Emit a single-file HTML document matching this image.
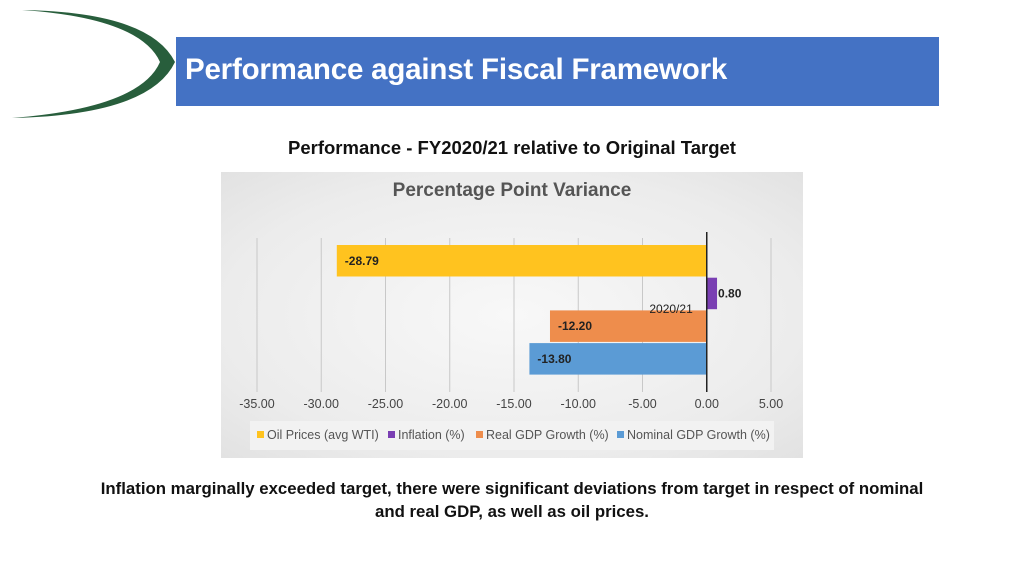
<!DOCTYPE html>
<html><head><meta charset="utf-8"><style>
body{margin:0;width:1024px;height:576px;background:#fff;position:relative;overflow:hidden;font-family:"Liberation Sans",sans-serif}
#title-bar{position:absolute;left:176px;top:37px;width:763px;height:69px;background:#4472c4}
#title-bar span{position:absolute;left:9px;top:16px;color:#fff;font-weight:bold;font-size:29.5px;letter-spacing:-0.2px;white-space:nowrap}
#subtitle{position:absolute;left:0;width:1024px;top:137px;text-align:center;font-weight:bold;font-size:18.5px;color:#111}
#panel{position:absolute;left:221px;top:172px;width:582px;height:286px;background:radial-gradient(ellipse at center,#f8f8f8 0%,#ececec 70%,#e2e2e2 100%)}
#caption{position:absolute;left:40px;width:944px;top:477px;text-align:center;font-weight:bold;font-size:16.8px;line-height:23px;color:#111}
</style></head><body>
<svg style="position:absolute;left:0;top:0" width="180" height="125">
<path d="M22 10 Q150 12 175 62 Q150 115 12 118 Q140 108 160 62 Q140 18 22 10Z" fill="#285e3c"/>
</svg>
<div id="title-bar"><span>Performance against Fiscal Framework</span></div>
<div id="subtitle">Performance - FY2020/21 relative to Original Target</div>
<div id="panel">
<svg id="chart" width="582" height="286" style="font-family:'Liberation Sans',sans-serif"></svg>
</div>
<div id="caption">Inflation marginally exceeded target, there were significant deviations from target in respect of nominal<br>and real GDP, as well as oil prices.</div>
<script>
const categories=["Oil Prices (avg WTI)","Inflation (%)","Real GDP Growth (%)","Nominal GDP Growth (%)"];
const values=[-28.79,0.80,-12.20,-13.80];
const labels=["-28.79","0.80","-12.20","-13.80"];
const colors=["#ffc31f","#7a3fb3","#ee8d4c","#5b9bd5"];
const ticks=[-35,-30,-25,-20,-15,-10,-5,0,5];
const tickLabels=["-35.00","-30.00","-25.00","-20.00","-15.00","-10.00","-5.00","0.00","5.00"];
const NS="http://www.w3.org/2000/svg";
const svg=document.getElementById('chart');
const x0=36,x1=550,vmin=-35,vmax=5;
function xs(v){return x0+(v-vmin)/(vmax-vmin)*(x1-x0);}
function el(t,a,txt){const e=document.createElementNS(NS,t);for(const k in a)e.setAttribute(k,a[k]);if(txt!==undefined)e.textContent=txt;svg.appendChild(e);return e;}
let t=el('text',{x:291,y:24,'text-anchor':'middle','font-size':19,'font-weight':'bold',fill:'#555'},'Percentage Point Variance');


ticks.forEach((v,i)=>{
  const g=el('line',{x1:xs(v),x2:xs(v),y1:66,y2:220,stroke:'#c8c8c8','stroke-width':1});
  
  
  const l=el('text',{x:xs(v),y:236,'text-anchor':'middle','font-size':12.5,fill:'#444'},tickLabels[i]);
  
  
});
const top0=73,bh=31.5,gap=1.2;
values.forEach((v,i)=>{
  const y=top0+i*(bh+gap);
  const xa=xs(Math.min(0,v)),xb=xs(Math.max(0,v));
  const r=el('rect',{x:xa,y:y,width:xb-xa,height:bh,fill:colors[i]});
  
  
  const lx=v<0?xa+8:xb+1;
  const l=el('text',{x:lx,y:y+bh/2+4,'font-size':12,'font-weight':'bold',fill:'#222'},labels[i]);
  
  
});
const z=el('line',{x1:xs(0),x2:xs(0),y1:60,y2:220,stroke:'#222','stroke-width':1.5});


const cl=el('text',{x:xs(0)-14,y:141,'text-anchor':'end','font-size':12,fill:'#222'},'2020/21');


const lb=el('rect',{x:29,y:249,width:524,height:29,fill:'#f2f2f2'});


const lxs=[36,167,255,396];
categories.forEach((c,i)=>{
  const s=el('rect',{x:lxs[i],y:259,width:7,height:7,fill:colors[i]});
  
  
  const tt=el('text',{x:lxs[i]+10,y:267,'font-size':12.5,fill:'#555'},c);
  
  
});
</script>
</body></html>
